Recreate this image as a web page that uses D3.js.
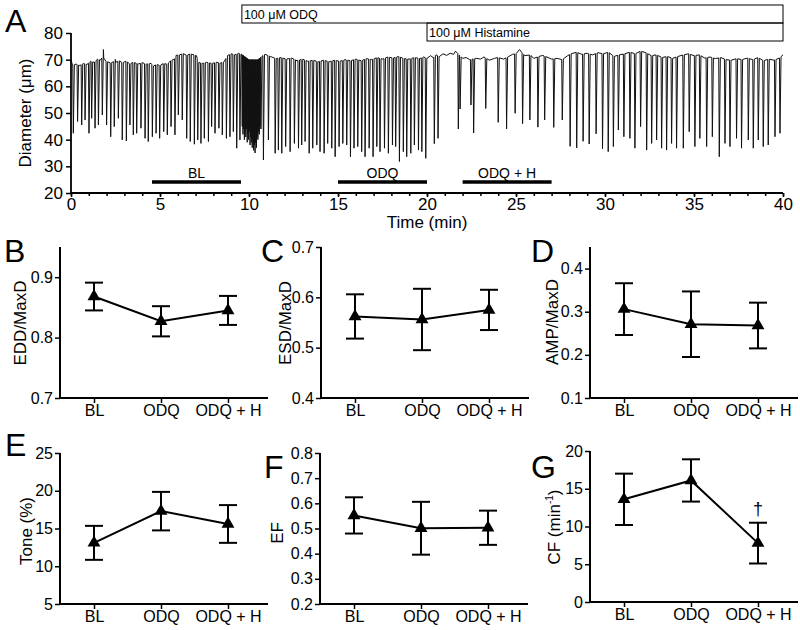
<!DOCTYPE html>
<html><head><meta charset="utf-8">
<script src="https://cdn.jsdelivr.net/npm/d3@7"></script>
<style>
body{margin:0;background:#fff}
svg{display:block}
text{font-family:"Liberation Sans",Arial,Helvetica,sans-serif;fill:#000}
</style>
</head><body>
<svg id="c" width="800" height="630"></svg>
<script>
// ---------- Panel A data ----------
const timeTicks = [0, 5, 10, 15, 20, 25, 30, 35, 40];
const diamTicks = [20, 30, 40, 50, 60, 70, 80];
// resting (diastolic) diameter, [min, µm]
const baseline = [[0,70],[0.08,68],[0.3,68.3],[0.5,67.8],[0.7,68.6],[0.9,68.2],[1.1,69.4],[1.3,69],[1.5,70.2],[1.65,69.8],[1.75,70.8],[1.8,77],[1.84,70.6],[1.95,69.5],[2.2,68.8],[2.4,69.2],[2.45,74.5],[2.5,69],[2.7,69.6],[2.9,68.8],[3.1,69.5],[3.3,68.4],[3.5,69],[3.8,68.4],[4.0,68.9],[4.2,68.3],[4.5,68.6],[4.6,67.5],[4.8,68.2],[5.0,67.8],[5.2,68.6],[5.4,68.3],[5.6,69.6],[5.8,70.2],[5.9,71.6],[6.1,71.8],[6.3,72.3],[6.5,71.6],[6.7,72.2],[6.9,71.8],[7.05,71.5],[7.15,69],[7.4,68.6],[7.6,69],[7.9,68.6],[8.2,69],[8.4,68.7],[8.6,69.2],[8.8,71.6],[9.0,72.2],[9.2,71.8],[9.4,72.4],[9.6,72],[10.0,70],[10.5,70],[10.7,71.2],[10.9,72],[11.2,71.2],[11.5,70.4],[11.8,70.8],[12.1,70.2],[12.4,70.6],[12.7,69.6],[13.0,70.2],[13.3,69.4],[13.6,69.8],[13.9,69.2],[14.2,69.8],[14.5,69.2],[14.8,69.8],[15.1,69.4],[15.4,70],[15.7,69.6],[16.0,70.2],[16.3,69.6],[16.6,70.4],[16.9,70],[17.2,70.8],[17.5,70.2],[17.8,71],[18.1,70.6],[18.4,71.2],[18.7,70.4],[19.0,70.2],[19.3,70.8],[19.6,70.4],[19.8,71],[20.0,70.5],[20.2,71.5],[20.35,70.8],[20.5,71.8],[20.7,71.2],[20.9,72.2],[21.1,71.6],[21.3,72.4],[21.5,72],[21.6,73.2],[21.7,72.5],[22.0,70.5],[22.2,70.8],[22.4,70],[22.8,70.5],[23.0,70.2],[23.2,71],[23.5,69.8],[23.8,70.5],[24.0,70.8],[24.3,70.2],[24.6,71.2],[24.8,72],[25.0,72.2],[25.2,73.8],[25.35,72.5],[25.5,71.5],[25.8,71.8],[26.0,70.5],[26.3,71.2],[26.5,71.6],[26.8,70.8],[27.0,70.2],[27.3,70.5],[27.6,70],[27.9,71.5],[28.1,72.2],[28.4,72.8],[28.7,72],[29.0,72.4],[29.3,71.8],[29.6,72.6],[29.9,72.2],[30.2,72.8],[30.5,71.2],[30.8,71.8],[31.1,72.2],[31.4,72.8],[31.7,72.2],[32.0,73.2],[32.3,72.6],[32.6,71.5],[32.9,71.8],[33.2,70.8],[33.5,71.2],[33.8,70.5],[34.1,71.2],[34.4,71.8],[34.7,72.2],[35.0,71.5],[35.3,71.8],[35.6,70.6],[35.9,71],[36.2,70.4],[36.5,70.8],[36.8,70],[37.1,69.8],[37.4,70.4],[37.7,70],[38.0,70.6],[38.3,70],[38.6,70.8],[38.9,69.6],[39.2,70.2],[39.5,69.8],[39.8,70.6],[40.0,71.8]];
// contractions: [time of trough (min), trough diameter (µm)]
const blContractions = [[0.13,42.4],[0.37,46.8],[0.60,45.5],[0.79,47.4],[1.01,42.4],[1.16,48.0],[1.35,44.3],[1.54,45.5],[1.76,49.3],[2.00,45.5],[2.23,41.1],[2.43,44.9],[2.66,48.0],[2.88,39.9],[3.11,39.5],[3.31,45.5],[3.50,41.8],[3.69,42.4],[3.93,44.3],[4.16,40.5],[4.34,39.3],[4.57,41.1],[4.78,42.4],[4.98,40.5],[5.21,43.0],[5.41,41.8],[5.62,44.9],[5.84,41.8],[6.03,49.3],[6.25,47.4],[6.50,40.5],[6.70,39.3],[6.93,38.3],[7.12,39.9],[7.30,38.6],[7.49,40.5],[7.72,39.3],[7.90,44.9],[8.09,42.4],[8.31,44.3],[8.50,41.8],[8.73,40.5],[8.93,41.1],[9.12,43.0],[9.31,36.8],[9.49,39.9]];
const odqBurst = [[9.62,45],[9.66,42],[9.70,44],[9.74,40],[9.78,43],[9.82,41],[9.86,44],[9.90,39],[9.94,42],[9.98,40],[10.02,43],[10.06,38],[10.10,41],[10.14,39],[10.18,37],[10.22,40],[10.26,36],[10.30,38],[10.34,35],[10.38,39],[10.42,37],[10.46,41],[10.50,40],[10.54,43],[10.58,42],[10.62,45],[10.67,44]];
const odqContractions = [[10.81,32.4],[11.09,39.9],[11.47,34.9],[11.65,36.1],[11.84,34.9],[12.06,37.4],[12.31,35.5],[12.55,38.6],[12.78,36.8],[12.96,38.0],[13.15,39.3],[13.38,34.9],[13.58,36.8],[13.81,38.0],[13.99,35.5],[14.22,34.9],[14.42,38.6],[14.65,36.8],[14.84,33.6],[15.06,37.4],[15.27,38.6],[15.49,38.0],[15.70,33.6],[15.90,36.8],[16.11,37.4],[16.33,35.5],[16.52,33.6],[16.75,36.8],[16.97,33.6],[17.18,37.4],[17.36,35.5],[17.61,36.8],[17.83,34.9],[18.06,38.0],[18.24,37.4],[18.45,31.8],[18.67,35.5],[18.86,33.6],[19.09,34.9],[19.29,38.0],[19.52,36.1],[19.71,35.5],[19.93,33.0]];
const histContractions = [[20.41,38.5],[20.62,40.5],[21.76,44],[21.86,51.5],[22.47,53],[22.62,42.5],[23.30,51.7],[24.0,46.5],[24.47,44],[24.95,49.9],[25.37,46],[25.78,47.4],[26.23,44.7],[26.61,47.4],[27.12,44.6],[27.6,47.4],[28.04,37.5],[28.41,36.9],[28.77,39.4],[29.11,38.4],[29.5,42.2],[29.86,36.5],[30.18,35.5],[30.47,37.4],[30.75,43.6],[31.06,41.1],[31.4,40.5],[31.68,36.8],[32.0,44.9],[32.34,36.1],[32.62,38.6],[32.9,39.9],[33.18,36.8],[33.46,36.1],[33.74,38.6],[34.02,36.8],[34.4,36.8],[34.73,43],[35.05,37.4],[35.33,40.5],[35.71,37.4],[36.03,41.1],[36.42,33.6],[36.74,38.6],[37.02,37.4],[37.39,40.5],[37.67,36.8],[38.05,39.9],[38.33,36.8],[38.61,39.9],[38.89,37.4],[39.17,38],[39.55,41.1],[39.83,42.4]];
// treatment boxes and analysis periods
const treatLabels = ["100 \u03BCM ODQ", "100 \u03BCM Histamine"];
const treatStart = [9.6, 20];
const treatEnd = [40, 40];
const periodLabels = ["BL", "ODQ", "ODQ + H"];
const periodStart = [4.55, 15, 22];
const periodEnd = [9.55, 20, 27];

// ---------- Panels B–G data ----------
const categories = ["BL", "ODQ", "ODQ + H"];
const eddMean = [0.868, 0.827, 0.845], eddSem = [0.023, 0.025, 0.024];
const esdMean = [0.562, 0.556, 0.575], esdSem = [0.044, 0.061, 0.040];
const ampMean = [0.306, 0.271, 0.268], ampSem = [0.060, 0.076, 0.053];
const toneMean = [13.1, 17.3, 15.6], toneSem = [2.25, 2.55, 2.5];
const efMean = [0.552, 0.501, 0.503], efSem = [0.072, 0.105, 0.068];
const cfMean = [13.6, 16.1, 7.8], cfSem = [3.4, 2.8, 2.7];
const eddTicks = [0.7, 0.8, 0.9];
const esdTicks = [0.4, 0.5, 0.6, 0.7];
const ampTicks = [0.1, 0.2, 0.3, 0.4];
const toneTicks = [5, 10, 15, 20, 25];
const efTicks = [0.2, 0.3, 0.4, 0.5, 0.6, 0.7, 0.8];
const cfTicks = [0, 5, 10, 15, 20];

const FONT = '"Liberation Sans",Arial,Helvetica,sans-serif';
const svg = d3.select("#c");

function styleAxis(g, fs) {
  g.attr("font-family", FONT).attr("font-size", fs);
  g.selectAll(".tick line").attr("stroke", "#000").attr("stroke-width", 1.5);
  g.selectAll(".tick text").attr("fill", "#000");
  g.select(".domain").remove();
}

// ---------- Panel A ----------
const xA = d3.scaleLinear().domain([0, 40]).range([71, 783]);
const yA = d3.scaleLinear().domain([20, 80]).range([193, 33]);
const gA = svg.append("g");

// trace
const allC = [].concat(blContractions, odqBurst, odqContractions, histContractions).sort((a, b) => a[0] - b[0]);
const bScale = d3.scaleLinear().domain(baseline.map(d => d[0])).range(baseline.map(d => d[1]));
const pts = [];
const windows = [];
allC.forEach((c, i) => {
  const gp = i > 0 ? c[0] - allC[i - 1][0] : 1;
  const gn = i < allC.length - 1 ? allC[i + 1][0] - c[0] : 1;
  const wd = Math.min(0.03, 0.4 * gp), wu = Math.min(0.06, 0.5 * gn);
  windows.push([c[0] - wd, c[0] + wu]);
  pts.push([c[0] - wd, bScale(c[0] - wd)], [c[0], c[1]], [c[0] + wu, bScale(c[0] + wu)]);
});
baseline.forEach(b => {
  if (!windows.some(w => b[0] >= w[0] && b[0] <= w[1])) pts.push(b);
});
pts.sort((a, b) => a[0] - b[0]);
gA.append("path")
  .attr("d", d3.line().x(d => xA(d[0])).y(d => yA(d[1]))(pts))
  .attr("fill", "none").attr("stroke", "#111").attr("stroke-width", 1).attr("stroke-linejoin", "round");

// axes
const yAx = gA.append("g").attr("transform", "translate(71,0)")
  .call(d3.axisLeft(yA).tickValues(diamTicks).tickFormat(d3.format("d")).tickSize(5).tickPadding(3));
styleAxis(yAx, 17);
const xAxMinor = gA.append("g").attr("transform", "translate(0,193)")
  .call(d3.axisBottom(xA).ticks(40).tickFormat("").tickSize(3));
styleAxis(xAxMinor, 17);
const xAx = gA.append("g").attr("transform", "translate(0,193)")
  .call(d3.axisBottom(xA).tickValues(timeTicks).tickFormat(d3.format("d")).tickSize(4).tickPadding(1));
styleAxis(xAx, 17);
gA.append("line").attr("x1", 71).attr("x2", 71).attr("y1", yA(80)).attr("y2", yA(20)).attr("stroke", "#000").attr("stroke-width", 1.8);
gA.append("line").attr("x1", xA(0)).attr("x2", xA(40)).attr("y1", 193).attr("y2", 193).attr("stroke", "#000").attr("stroke-width", 1.8);

gA.append("text").attr("x", (xA(0) + xA(40)) / 2).attr("y", 228).attr("text-anchor", "middle").attr("font-size", 17).text("Time (min)");
gA.append("text").attr("transform", `translate(31,${(yA(20) + yA(80)) / 2}) rotate(-90)`).attr("text-anchor", "middle").attr("font-size", 17).text("Diameter (\u03BCm)");

// analysis period bars
periodLabels.forEach((l, i) => {
  gA.append("line").attr("x1", xA(periodStart[i])).attr("x2", xA(periodEnd[i])).attr("y1", 182).attr("y2", 182)
    .attr("stroke", "#000").attr("stroke-width", 3.5);
  gA.append("text").attr("x", (xA(periodStart[i]) + xA(periodEnd[i])) / 2).attr("y", 178).attr("text-anchor", "middle")
    .attr("font-size", 14).text(l);
});
// treatment boxes
treatLabels.forEach((l, i) => {
  const y0 = 5 + i * 18;
  gA.append("rect").attr("x", xA(treatStart[i])).attr("y", y0).attr("width", xA(treatEnd[i]) - xA(treatStart[i])).attr("height", 18)
    .attr("fill", "none").attr("stroke", "#000").attr("stroke-width", 1);
  gA.append("text").attr("x", xA(treatStart[i]) + 2).attr("y", y0 + 14).attr("font-size", 12.5).text(l);
});
svg.append("text").attr("x", 5).attr("y", 32).attr("font-size", 32).text("A");

// ---------- Panels B–G ----------
function panel(o) {
  const g = svg.append("g");
  const x = d3.scalePoint().domain(categories).range([o.ax + 34, o.ax + 168]);
  const y = d3.scaleLinear().domain(o.domain).range([o.bottom, o.top]);
  const ya = g.append("g").attr("transform", `translate(${o.ax},0)`)
    .call(d3.axisLeft(y).tickValues(o.ticks).tickFormat(o.fmt).tickSize(5).tickPadding(2));
  styleAxis(ya, 16);
  const xa = g.append("g").attr("transform", `translate(0,${o.bottom})`)
    .call(d3.axisBottom(x).tickSize(5).tickPadding(2));
  styleAxis(xa, 16);
  g.append("line").attr("x1", o.ax).attr("x2", o.ax).attr("y1", o.top).attr("y2", o.bottom).attr("stroke", "#000").attr("stroke-width", 2);
  g.append("line").attr("x1", o.ax).attr("x2", o.ax + 208).attr("y1", o.bottom).attr("y2", o.bottom).attr("stroke", "#000").attr("stroke-width", 2);
  // line
  g.append("path").attr("d", d3.line().x(c => x(c)).y((c, i) => y(o.mean[i]))(categories))
    .attr("fill", "none").attr("stroke", "#000").attr("stroke-width", 2);
  // error bars
  categories.forEach((c, i) => {
    const cx = x(c), yt = y(o.mean[i] + o.sem[i]), yb = y(o.mean[i] - o.sem[i]);
    g.append("line").attr("x1", cx).attr("x2", cx).attr("y1", yt).attr("y2", yb).attr("stroke", "#000").attr("stroke-width", 2);
    g.append("line").attr("x1", cx - 9).attr("x2", cx + 9).attr("y1", yt).attr("y2", yt).attr("stroke", "#000").attr("stroke-width", 2);
    g.append("line").attr("x1", cx - 9).attr("x2", cx + 9).attr("y1", yb).attr("y2", yb).attr("stroke", "#000").attr("stroke-width", 2);
    g.append("path").attr("transform", `translate(${cx},${y(o.mean[i])})`)
      .attr("d", d3.symbol(d3.symbolTriangle, 72)()).attr("fill", "#000");
  });
  // y title
  const t = g.append("text").attr("transform", `translate(${o.tx},${o.ty}) rotate(-90)`).attr("text-anchor", "middle").attr("font-size", 17);
  if (o.sup) {
    t.append("tspan").text(o.title);
    t.append("tspan").attr("font-size", 10).attr("dy", -7).text(o.sup);
    t.append("tspan").attr("dy", 7).text(")");
  } else t.text(o.title);
  svg.append("text").attr("x", o.lx).attr("y", o.ly).attr("font-size", 32).text(o.letter);
  if (o.dagger !== undefined) {
    const i = o.dagger;
    g.append("text").attr("x", x(categories[i])).attr("y", y(o.mean[i] + o.sem[i]) - 8).attr("text-anchor", "middle")
      .attr("font-size", 18).attr("fill", "#000").style("fill", "#000").text("\u2020");
  }
}
const f1 = d3.format(".1f"), fd = d3.format("d");
panel({ax: 60, top: 247, bottom: 398, domain: [0.7, 0.95], ticks: eddTicks, fmt: f1, mean: eddMean, sem: eddSem, title: "EDD/MaxD", tx: 26, ty: 323, letter: "B", lx: 4, ly: 262});
panel({ax: 321, top: 247, bottom: 398, domain: [0.4, 0.7], ticks: esdTicks, fmt: f1, mean: esdMean, sem: esdSem, title: "ESD/MaxD", tx: 291, ty: 323, letter: "C", lx: 261, ly: 262});
panel({ax: 590, top: 247, bottom: 398, domain: [0.1, 0.45], ticks: ampTicks, fmt: f1, mean: ampMean, sem: ampSem, title: "AMP/MaxD", tx: 558, ty: 322, letter: "D", lx: 531, ly: 262});
panel({ax: 60, top: 453, bottom: 604, domain: [5, 25], ticks: toneTicks, fmt: fd, mean: toneMean, sem: toneSem, title: "Tone (%)", tx: 32, ty: 531, letter: "E", lx: 5, ly: 456});
panel({ax: 320, top: 453, bottom: 604, domain: [0.2, 0.8], ticks: efTicks, fmt: f1, mean: efMean, sem: efSem, title: "EF", tx: 283, ty: 533, letter: "F", lx: 264, ly: 478});
panel({ax: 590, top: 451, bottom: 602, domain: [0, 20], ticks: cfTicks, fmt: fd, mean: cfMean, sem: cfSem, title: "CF (min", sup: "-1", tx: 560, ty: 527, letter: "G", lx: 531, ly: 478, dagger: 2});
</script>
</body></html>
